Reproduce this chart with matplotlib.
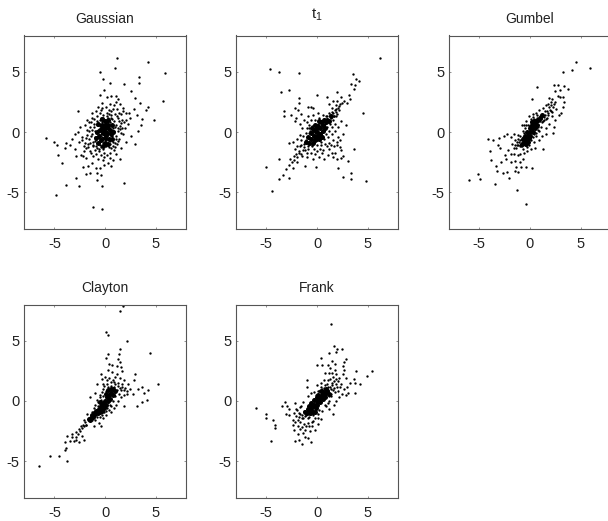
# Five copula scatter panels

import matplotlib
matplotlib.use("Agg")
import matplotlib.pyplot as plt

titles = ["Gaussian", "$\\mathregular{t_1}$", "Gumbel", "Clayton", "Frank"]
ticks = [-5, 0, 5]

gaussian_pts = [
    (1.2,6.1),(4.2,5.8),(1.0,5.3),(-0.5,5.0),(5.9,4.9),(3.4,4.6),(-0.2,4.4),(3.4,4.1),(0.5,4.1),(1.9,4.0),
    (2.6,3.4),(-0.1,3.5),(-0.5,3.1),(5.7,2.6),(4.2,2.1),(3.5,2.4),(-2.7,1.7),(4.8,1.0),(-5.8,-0.5),(-5.0,-0.8),
    (-4.7,-1.05),(-4.6,-1.9),(-4.2,-2.6),(3.0,-1.0),(-2.9,-3.8),(-3.9,-4.4),(-2.6,-4.5),(-4.8,-5.2),(-1.2,-6.2),(-0.3,-6.4),
    (1.9,-4.2),(-0.3,-4.5),(-0.8,-4.0),(-3.0,-0.2),(-3.3,-0.6),(-3.9,-0.9),(-4.0,-1.3),(-3.5,-1.1),(-3.0,-1.4),(-2.9,-2.0),
    (-2.4,-1.9),(-2.2,-2.0),(-2.2,-2.9),(-1.9,-3.5),(-1.7,-2.8),(-1.5,-3.4),(-1.3,-2.6),(-0.9,-3.0),(-0.8,-3.4),(-0.5,-3.0),
    (-0.4,-3.6),(-0.1,-2.7),(0.3,-2.6),(0.6,-2.8),(0.8,-2.3),(1.5,-2.2),(2.1,-0.8),(2.6,-0.3),(3.3,0.1),(3.6,0.6),
    (3.2,1.4),(2.9,1.9),(3.7,1.1),(4.0,1.8),(3.0,2.8),(1.3,2.7),(1.5,2.3),(1.1,3.0),(0.2,2.9),(0.6,3.0),
    (-0.3,2.4),(-1.3,1.6),(-1.3,1.2),(-1.8,1.0),(-2.0,0.6),(-2.5,0.4),(-2.7,0.0),(-2.3,-0.4),(-2.6,-0.8),(-2.1,-1.2),
    (-1.9,-0.5),(-1.7,-1.0),(-1.8,0.2),(-1.6,0.8),(-1.5,-1.6),(-1.2,-2.0),(-1.0,-1.5),(-0.7,-2.2),(-0.4,-1.9),(-0.2,-2.3),
    (0.2,-1.9),(0.5,-1.7),(0.9,-1.5),(1.2,-1.0),(1.4,-0.6),(1.8,-0.2),(2.0,0.3),(2.3,0.7),(2.5,1.2),(2.1,1.6),
    (1.8,2.0),(1.6,1.5),(1.2,1.9),(0.9,2.2),(0.5,2.3),(0.1,2.1),(-0.4,1.8),(-0.8,1.3),(-1.1,0.7),(-1.3,0.2),
    (-1.4,-0.3),(-1.2,-0.8),(-0.9,-1.2),(-0.6,-1.6),(-0.2,-1.4),(0.1,-1.2),(0.5,-1.0),(0.8,-0.8),(1.1,-0.3),(1.3,0.1),
    (1.5,0.5),(1.7,1.0),(1.3,1.2),(1.0,1.5),(0.6,1.7),(0.2,1.6),(-0.2,1.4),(-0.5,1.0),(-0.8,0.6),(-1.0,0.1),
    (-1.0,-0.4),(-0.8,-0.9),(-0.5,-1.1),(-0.2,-0.9),(0.1,-0.7),(0.4,-0.5),(0.7,-0.3),(0.9,0.1),(1.1,0.6),(0.9,0.9),
    (0.6,1.2),(0.3,1.2),(0.0,1.0),(-0.3,0.8),(-0.5,0.5),(-0.7,0.2),(-0.7,-0.3),(-0.5,-0.6),(-0.2,-0.5),(0.0,-0.3),
    (0.3,-0.1),(0.5,0.2),(0.7,0.5),(0.5,0.8),(0.2,0.8),(0.0,0.6),(-0.2,0.4),(-0.4,0.1),(-0.4,-0.2),(-0.1,-0.1),
    (0.1,0.1),(0.3,0.3),(0.1,0.4),(-0.1,0.2),(0.2,-0.3),(0.4,0.6),(-0.3,-0.4),(0.0,0.0),(-0.6,-0.8),(-0.3,-0.7),
    (-0.1,0.7),(0.3,0.9),(-0.6,0.7),(-0.9,-0.1),(0.6,-0.1),(0.8,0.3),(-0.4,1.2),(0.4,1.5),(-1.2,-1.2),(-1.6,-0.6),
    (0.6,-1.3),(1.0,-0.9),(-0.1,-1.7),(1.6,-0.1),(2.1,1.0),(-2.0,-0.9),(-1.5,0.4),(-0.9,1.7),(0.8,1.9),(1.4,0.9),
    (0.95,0.45),(-0.95,-0.75),(0.45,-0.75),(-0.15,1.15),(0.65,1.05),(-0.75,0.95),(1.05,-0.55),(-1.05,0.45),(0.05,-1.05),(-0.35,-1.25),
    (0.35,-1.25),(-0.75,-1.35),(0.75,-1.15),(1.25,0.35),(-1.25,-0.15),(1.25,-0.75),(-1.15,-1.05),(1.15,1.35),(-1.05,1.05),(0.15,1.35),
    (-0.45,1.55),(0.55,1.45),(1.45,0.25),(-1.45,-0.95),(1.55,0.75),(-1.55,0.05),(0.95,-1.25),(-0.55,-1.45),(1.65,0.35),(-1.75,-0.25),
    (1.85,0.85),(-1.85,-1.35),(1.35,1.55),(-1.35,0.85),(0.35,1.85),(-0.25,1.95),(-0.65,2.05),(1.05,2.45),(1.75,1.75),(2.35,1.55),
    (-1.65,-1.25),(-2.25,-0.65),(-2.05,-1.55),(-1.35,-1.75),(-0.85,-1.85),(-0.05,-2.05),(0.45,-2.15),(1.05,-1.85),(1.55,-1.35),(-1.85,-2.15),
]
gaussian_core = [
    (0.0,0.3),(0.3,0.6),(-0.3,0.6),(0.0,0.9),(0.5,0.2),(-0.5,0.2),(0.2,-0.1),(-0.2,-0.1),(0.6,-0.2),(-0.6,-0.3),
    (0.0,-0.5),(0.4,-0.6),(-0.4,-0.7),(0.0,-0.9),(-0.2,-1.2),(0.3,-1.0),(-0.7,-0.9),(0.7,0.6),(-0.7,0.7),(0.3,1.0),
    (-0.3,1.1),(0.8,0.0),(-0.8,0.0),(0.7,-0.6),(-0.9,-0.5),(0.1,0.6),(-0.1,0.1),(0.25,0.3),(-0.25,0.35),(0.1,-0.25),
]

t1_pts = [
    (6.2,6.1),(-4.6,5.2),(-3.8,5.0),(-1.8,4.9),(3.6,4.8),(3.9,4.4),(4.1,4.2),(3.4,4.0),(3.8,3.9),(3.7,3.6),
    (-3.6,3.3),(-2.8,3.5),(2.0,3.3),(0.0,3.1),(3.2,3.1),(1.0,2.9),(2.4,2.9),(-1.8,2.8),(3.3,2.7),(2.7,2.6),
    (4.5,1.6),(3.0,2.4),(2.5,2.4),(2.0,2.6),(1.6,2.6),(1.2,2.3),(-1.8,2.4),(-2.2,2.0),(-1.9,1.8),(-3.3,1.7),
    (-3.3,1.3),(-2.6,1.4),(-2.1,1.2),(-1.6,1.5),(-0.9,2.1),(-0.6,2.1),(-0.4,2.0),(-1.7,0.7),(-2.2,0.9),(-1.3,1.0),
    (2.9,0.6),(2.4,0.9),(3.7,-1.4),(2.6,-0.2),(2.3,-0.7),(2.0,-1.1),(-5.0,-2.9),(-3.8,-2.2),(-2.7,-2.2),(-2.5,-2.5),
    (-2.4,-3.0),(-2.0,-2.5),(-2.2,-1.4),(-2.8,-0.9),(-2.4,-0.8),(-1.2,-2.8),(-0.1,-2.9),(-3.1,-3.1),(-2.8,-3.8),(-3.4,-3.6),
    (-3.8,-3.9),(-4.4,-4.9),(2.1,-3.0),(2.6,-3.7),(3.1,-2.4),(3.4,-3.4),(3.4,-3.9),(4.8,-4.1),(2.6,-2.0),(2.0,-2.2),
    (1.6,-2.1),(1.1,-1.9),(0.7,-2.2),(0.2,-2.1),(-0.4,-2.2),(-1.0,-2.1),(-1.5,-2.0),(-1.8,-1.7),(-1.4,-1.5),(-1.0,-1.7),
    (-0.6,-1.7),(0.0,-1.6),(0.6,-1.5),(1.2,-1.4),(1.7,-1.2),(2.1,-0.4),(1.6,-0.7),(1.2,-0.9),(0.8,-1.0),(0.4,-1.1),
    (0.0,-1.1),(-0.5,-1.2),(-0.9,-1.2),(-1.3,-1.0),(-1.6,-0.7),(-1.4,-0.3),(-1.1,-0.7),(-0.8,-0.8),(-0.4,-0.8),(-0.1,-0.7),
    (0.3,-0.7),(0.7,-0.6),(1.1,-0.4),(1.5,-0.2),(1.8,0.1),(2.1,0.4),(1.8,0.7),(1.5,0.4),(1.2,0.1),(0.9,-0.2),
    (0.5,-0.3),(0.2,-0.4),(-0.2,-0.4),(-0.6,-0.5),(-0.9,-0.4),(-1.1,-0.1),(-0.8,-0.1),(-0.5,-0.2),(-0.2,-0.1),(0.1,-0.1),
    (0.4,0.0),(0.7,0.2),(1.0,0.4),(1.3,0.7),(1.6,1.0),(1.9,1.3),(2.2,1.8),(2.0,1.5),(1.7,1.3),(1.4,1.2),
    (1.1,0.9),(0.8,0.7),(0.5,0.5),(0.2,0.3),(-0.1,0.2),(-0.4,0.1),(-0.7,0.1),(-1.0,0.3),(-0.8,0.6),(-0.5,0.5),
    (-0.2,0.6),(0.1,0.7),(0.4,0.9),(0.7,1.1),(1.0,1.3),(0.6,1.4),(0.2,1.2),(-0.2,1.0),(-0.6,1.0),(-1.0,0.8),
    (0.9,1.0),(1.3,1.4),(1.6,1.6),(1.9,1.9),(1.5,2.0),(2.3,2.3),(1.9,2.2),(-1.2,-1.5),(-0.7,-1.0),(-0.3,-1.4),
    (0.3,-1.4),(1.0,-1.2),(-1.7,-1.2),(-2.0,-0.6),(-1.5,0.3),(-0.4,1.4),(0.1,1.6),(-0.9,1.3),(1.5,-1.7),(2.4,-1.5),
    (1.65,1.35),(1.85,1.65),(2.05,1.95),(2.15,2.15),(1.75,1.85),(1.45,1.65),(1.15,1.55),(0.85,1.35),(-0.75,0.35),(-1.55,-1.05),
    (-1.75,-1.55),(-2.05,-1.85),(-1.25,-1.25),(-0.45,-1.05),(0.35,-0.85),(-1.65,-0.25),(-1.95,-1.15),(-2.25,-1.95),(-1.55,-1.85),(-0.85,-1.45),
    (-0.15,-1.85),(0.45,-1.75),(1.35,-1.05),(1.95,-0.85),(2.25,-1.25),(1.75,-1.75),(2.35,-2.15),(-2.75,-2.75),(-2.25,-2.35),(-1.95,-2.05),
]
t1_core = [
    (0.0,0.0),(0.3,0.3),(-0.3,-0.3),(0.6,0.6),(-0.6,-0.6),(0.9,0.8),(-0.8,-0.9),(0.3,-0.2),(-0.3,0.2),(0.6,0.1),
    (-0.6,-0.1),(0.1,0.5),(-0.1,-0.6),(0.4,0.8),(-0.4,-0.9),(0.0,-0.3),(0.0,0.3),(0.8,0.3),(-0.9,-0.4),(0.2,0.9),
    (0.5,-0.4),(-0.5,0.3),(1.0,1.0),(1.2,0.9),(-0.2,-0.7),(0.15,-0.55),(-0.15,0.6),(0.7,1.0),(1.4,1.3),(-1.1,-0.8),
]

gumbel_pts = [
    (4.5,5.8),(5.9,5.3),(3.3,5.0),(4.1,5.1),(-6.0,-4.0),(-5.1,-3.5),(-4.9,-3.9),(-3.5,-4.3),(-1.3,-4.8),(-0.4,-6.0),
    (0.7,3.7),(0.2,2.7),(2.4,3.9),(2.8,3.9),(3.4,3.8),(3.8,3.6),(3.0,3.5),(2.5,3.4),(2.8,3.0),(3.3,2.9),
    (3.0,2.9),(3.4,2.5),(3.3,2.1),(3.1,1.6),(2.9,1.4),(2.5,1.0),(2.4,0.4),(2.3,-0.1),(1.6,-0.2),(1.3,-1.4),
    (-4.1,-0.6),(-3.7,-0.7),(-3.1,-0.5),(-3.2,-1.1),(-3.0,-1.3),(-2.6,-0.3),(-2.3,-0.2),(-4.0,-1.6),(-3.9,-2.3),(-3.4,-2.8),
    (-3.3,-3.2),(-2.9,-2.5),(-2.7,-3.4),(-2.3,-3.3),(-2.1,-3.8),(-1.5,-3.2),(-1.2,-3.3),(-1.4,-2.9),(-0.9,-2.9),(-0.4,-2.9),
    (0.2,-3.0),(-1.9,-2.5),(-2.4,-2.2),(-2.5,-1.9),(-2.2,-1.5),(-1.9,-1.8),(-1.5,-2.4),(-1.0,-2.5),(-0.7,-2.2),(-1.2,-1.9),
    (-1.6,-1.8),(-1.0,-1.8),(-0.6,-1.7),(-1.8,-1.0),(-1.5,-0.7),(-1.9,-0.4),(-1.6,-0.2),(-1.3,-1.1),(-1.2,-0.6),(-1.0,-1.2),
    (-0.7,-1.4),(-0.3,-1.6),(0.1,-1.4),(0.5,-1.3),(0.4,-0.8),(0.9,-0.7),(1.2,-0.3),(1.6,0.3),(1.9,0.7),(2.2,1.3),
    (2.6,1.9),(2.5,2.5),(2.2,2.7),(1.9,2.8),(2.1,2.2),(1.8,2.3),(1.6,2.2),(1.3,2.0),(1.5,1.7),(1.8,1.6),
    (2.1,1.7),(1.7,1.2),(1.4,1.0),(1.1,0.4),(0.9,0.1),(1.2,1.3),(0.9,1.8),(0.6,1.6),(0.3,1.5),(-0.1,1.3),
    (-0.4,0.9),(-0.8,0.6),(-0.7,0.1),(-1.0,-0.3),(-0.8,-0.7),(-0.5,-1.1),(-0.2,-0.9),(0.1,-0.7),(0.3,-0.4),(0.6,-0.1),
    (0.8,0.4),(1.0,0.9),(0.7,1.2),(0.4,1.1),(0.1,0.9),(-0.2,0.6),(-0.5,0.3),(-0.6,-0.1),(-0.7,-0.4),(-0.5,-0.7),
    (1.05,1.05),(-1.05,-0.85),(1.15,0.85),(-1.15,-1.05),(1.25,0.95),(-1.25,-0.85),(1.35,1.25),(-1.35,-1.35),(1.45,1.45),(-1.45,-1.05),
    (1.55,1.05),(-1.55,-1.35),(1.65,1.75),(1.75,1.45),(1.85,2.05),(1.95,1.85),(2.05,2.45),(2.25,2.05),(2.35,2.35),(2.15,1.65),
    (0.05,1.05),(-0.35,0.55),(-0.55,0.55),(0.25,1.25),(0.65,1.45),(0.35,-0.15),(0.55,-0.35),(0.75,0.15),(-0.05,-1.05),(-0.25,-1.25),
    (-0.75,-1.15),(-1.15,-0.25),(0.95,1.35),(0.85,1.15),(-0.95,-0.65),(-0.85,-1.15),(-0.95,-1.05),(0.65,0.95),(0.75,1.05),(-0.65,-0.65),
]
gumbel_core = [
    (0.0,0.0),(0.2,0.3),(-0.2,-0.3),(0.4,0.6),(-0.4,-0.6),(0.6,0.9),(-0.6,-0.9),(0.1,0.5),(-0.1,-0.5),(0.3,0.0),
    (-0.3,0.0),(0.5,0.3),(-0.5,-0.3),(0.2,0.8),(-0.2,-0.8),(0.7,0.6),(0.8,1.0),(-0.7,-0.6),(1.0,1.2),(0.4,0.95),
    (-0.4,-1.0),(0.0,0.35),(0.0,-0.3),(0.55,0.6),(-0.55,-0.6),(1.2,1.4),(-0.8,-1.0),
]

clayton_pts = [
    (1.5,7.5),(1.8,7.9),(0.1,5.7),(0.3,5.5),(2.2,5.0),(4.4,4.0),(1.5,4.3),(1.4,3.9),(0.3,3.9),(0.1,3.6),
    (1.3,3.5),(1.5,3.2),(5.2,1.4),(3.0,2.2),(2.9,1.7),(3.7,1.2),(3.3,1.0),(4.2,0.9),(3.9,0.7),(4.1,0.1),
    (3.7,-0.1),(3.2,-0.4),(2.8,0.6),(2.5,1.0),(2.2,0.8),(2.3,1.4),(1.9,1.7),(1.7,2.5),(1.6,2.8),(1.2,2.9),
    (0.7,3.0),(0.4,3.1),(-0.4,2.2),(-0.3,1.8),(-0.8,1.4),(-1.5,0.3),(-1.0,0.7),(-6.5,-5.4),(-5.4,-4.6),(-4.5,-4.6),
    (-3.8,-5.0),(-4.0,-4.1),(-3.9,-3.9),(-4.0,-3.4),(-3.8,-2.9),(-3.3,-3.0),(-3.5,-3.3),(-2.9,-3.2),(-2.6,-3.4),(-2.1,-3.2),
    (-2.3,-2.9),(-2.9,-2.6),(-2.6,-2.3),(-2.4,-2.1),(-2.1,-1.6),(-1.9,-2.0),(-1.6,-1.4),(-1.8,-1.1),(-1.3,-1.6),(-1.1,-2.1),
    (-0.4,-2.1),(-0.6,-1.8),(-1.0,-1.6),(-0.8,-1.3),(-1.4,-1.2),(-1.3,-0.9),(-1.1,-0.6),(-0.9,-1.0),(-0.7,-0.8),(-0.5,-1.3),
    (-0.2,-1.4),(0.1,-1.2),(0.6,-0.9),(0.9,-0.6),(1.1,-0.3),(1.9,-0.4),(1.3,0.0),(1.6,0.3),(1.9,0.5),(2.0,1.1),
    (1.7,1.2),(1.3,1.5),(1.0,2.0),(0.7,2.4),(0.3,2.6),(0.0,2.0),(0.2,1.4),(-0.2,1.0),(-0.5,0.5),(-0.8,0.1),
    (-1.0,-0.3),(-0.7,-0.4),(-0.4,-0.7),(-0.1,-0.9),(0.2,-0.6),(0.5,-0.3),(0.8,0.0),(1.0,0.4),(1.2,0.9),(0.9,1.2),
    (0.6,1.6),(0.4,1.9),(0.1,0.8),(-0.2,0.4),(-0.4,0.1),(1.4,0.6),(1.6,0.9),(1.5,1.9),(0.9,1.6),(0.6,-0.4),
    (-1.85,-1.95),(-1.95,-1.75),(-2.05,-2.05),(-2.15,-1.95),(-2.25,-2.25),(-2.45,-2.45),(-2.65,-2.75),(-2.85,-2.95),(-3.05,-3.35),(-3.25,-2.75),
    (1.25,1.25),(1.45,1.05),(1.65,1.45),(1.85,0.95),(2.15,0.55),(0.25,1.15),(0.55,1.25),(0.75,1.75),(0.95,1.45),(1.15,2.25),
    (0.15,1.75),(-0.15,1.45),(-0.05,1.25),(0.05,0.65),(-0.25,0.75),(-0.45,0.35),(-0.65,-0.05),(0.35,-0.75),(0.05,-0.85),(-0.25,-1.15),
]
clayton_core = [
    (0.0,0.0),(0.2,0.3),(-0.2,-0.2),(0.4,0.5),(-0.4,-0.4),(0.6,0.7),(-0.6,-0.7),(-0.8,-0.9),(-1.0,-1.1),(-1.2,-1.3),
    (0.1,0.6),(0.3,0.0),(0.5,0.2),(-0.1,-0.6),(-0.3,-0.8),(-0.7,-1.0),(-0.9,-0.8),(-1.1,-1.0),(-1.3,-1.2),(-1.5,-1.6),
    (0.3,0.9),(0.8,0.5),(0.6,1.0),(-0.5,-0.1),(0.1,-0.3),(-1.6,-1.5),(-0.5,-0.9),(1.0,0.8),(0.8,1.0),(-1.4,-1.4),
]

frank_pts = [
    (1.4,6.4),(1.7,4.6),(2.0,4.3),(1.9,4.1),(2.5,4.3),(1.2,4.0),(0.4,3.6),(2.9,3.5),(1.5,3.3),(1.8,3.1),
    (2.7,3.2),(2.6,2.9),(0.0,3.0),(0.5,3.0),(1.1,3.0),(1.3,2.7),(2.7,2.6),(2.6,2.2),(3.9,2.5),(5.4,2.5),
    (4.9,2.1),(2.9,1.9),(3.7,1.8),(3.8,1.5),(4.2,1.4),(3.3,1.5),(3.0,1.2),(2.7,1.0),(3.1,0.7),(3.8,0.7),
    (2.9,0.5),(2.5,0.6),(-6.0,-0.6),(-5.0,-1.1),(-5.0,-1.4),(-4.3,-1.6),(-4.1,-2.0),(-4.1,-2.2),(-4.5,-3.3),(-3.5,-0.4),
    (-3.2,-0.1),(-3.0,-0.4),(-3.1,-1.1),(-2.8,-0.7),(-2.2,-0.2),(-2.1,-0.7),(-2.8,-1.2),(-2.3,-1.0),(-2.4,-1.6),(-2.4,-2.0),
    (-2.3,-2.4),(-1.9,-2.1),(-1.9,-2.7),(-2.2,-3.3),(-1.8,-3.2),(-1.5,-3.6),(-1.2,-3.0),(-0.9,-3.1),(-0.6,-3.4),(-1.2,-2.4),
    (-0.7,-2.5),(-0.2,-2.4),(0.1,-1.9),(0.4,-1.5),(1.6,-1.1),(1.2,-0.7),(1.7,-0.3),(1.9,0.0),(2.2,0.3),(2.1,0.8),
    (2.4,1.4),(2.2,1.9),(1.9,2.2),(1.6,2.0),(1.2,2.3),(0.8,2.3),(0.7,1.7),(1.1,1.7),(1.5,1.5),(1.9,1.4),
    (1.7,1.1),(1.4,1.0),(1.1,1.2),(0.8,1.3),(0.4,1.5),(0.0,1.3),(-1.0,1.7),(-1.0,1.2),(-0.6,0.7),(-0.9,0.4),
    (-1.4,-0.1),(-1.7,-0.5),(-1.8,-1.0),(-1.5,-1.4),(-1.7,-1.7),(-1.3,-1.9),(-0.9,-1.8),(-0.5,-1.7),(-0.2,-1.4),(0.1,-1.1),
    (0.5,-0.8),(0.9,-0.4),(1.2,0.0),(1.4,0.4),(1.1,0.7),(0.8,0.9),(0.5,1.0),(0.2,0.8),(-0.1,0.5),(-0.3,0.2),
    (1.25,1.15),(-1.25,-0.85),(1.35,0.55),(-1.35,-1.45),(1.45,1.35),(-1.45,-1.15),(1.55,0.95),(-1.55,-0.45),(1.65,1.65),(-1.65,-1.05),
    (1.75,0.75),(-1.75,-1.35),(1.85,1.85),(-1.85,-1.55),(1.95,1.15),(-1.95,-0.75),(2.05,1.65),(-2.05,-1.25),(2.25,1.15),(-2.15,-1.75),
    (0.05,0.85),(0.35,1.15),(-0.25,0.75),(0.95,1.45),(1.25,1.85),(1.45,2.35),(1.75,2.55),(1.05,-0.15),(0.75,-0.35),(0.15,-0.75),
    (-0.85,-1.45),(-0.35,-1.65),(-1.45,-2.15),(-1.65,-2.35),(-1.05,-2.05),(-1.35,-2.65),(-0.75,-2.05),(-0.45,-2.05),(0.05,-1.45),(-0.05,-0.15),
    (-1.05,-1.15),(-1.15,-1.25),(-0.65,-1.05),(-0.55,-1.05),(-0.75,-1.35),(0.65,1.05),(0.55,0.85),(1.05,0.95),(1.15,0.45),(-0.35,-1.15),
]
frank_core = [
    (0.0,0.0),(0.25,0.3),(-0.25,-0.3),(0.5,0.5),(-0.5,-0.5),(0.75,0.6),(-0.75,-0.7),(1.0,0.8),(-1.0,-1.0),(0.3,-0.1),
    (-0.3,0.1),(0.6,0.2),(-0.6,-0.2),(0.1,0.5),(-0.1,-0.6),(0.4,0.8),(-0.4,-0.9),(0.8,0.3),(-0.8,-0.4),(-0.7,-1.0),
    (0.0,-0.3),(0.0,0.3),(0.55,0.75),(-0.55,-0.75),(-0.9,-0.7),(1.2,0.6),(0.9,1.0),(-1.15,-0.9),(0.2,0.0),(-0.2,-0.9),
]

all_pts = [gaussian_pts, t1_pts, gumbel_pts, clayton_pts, frank_pts]
all_core = [gaussian_core, t1_core, gumbel_core, clayton_core, frank_core]

W, H = 608, 521
# panel corners in pixels: left, top
corners = [(24, 35.5), (236, 35.5), (449, 35.5), (24, 304.5), (236, 304.5)]
ax_w, ax_h = 162, 193

plt.rcParams["font.family"] = ["Liberation Sans", "DejaVu Sans"]
plt.rcParams["axes.unicode_minus"] = False
plt.rcParams["mathtext.fontset"] = "custom"
plt.rcParams["mathtext.rm"] = "Liberation Sans"
fig = plt.figure(figsize=(W / 100, H / 100), dpi=100)

for title, pts, core, (left, top) in zip(titles, all_pts, all_core, corners):
    ax = fig.add_axes([left / W, 1 - (top + ax_h) / H, ax_w / W, ax_h / H])
    ax.plot([p[0] for p in pts], [p[1] for p in pts], ls="none", marker="o", ms=1.7, mew=0, color="black")
    # overlapping dots in the middle merge into a solid blob, so bigger marks here
    ax.plot([p[0] for p in core], [p[1] for p in core], ls="none", marker="o", ms=3.6, mew=0, color="black")
    ax.set_xlim(-8, 8)
    ax.set_ylim(-8, 8)
    ax.set_xticks(ticks)
    ax.set_yticks(ticks)
    ax.tick_params(direction="in", top=True, right=True, length=1.5, width=0.5,
                   color="#666666", labelsize=10.5, labelcolor="#222222")
    ax.tick_params(axis="x", pad=6)
    ax.tick_params(axis="y", pad=3)
    for s in ax.spines.values():
        s.set_linewidth(0.8)
        s.set_color("#555555")
    if title.startswith("$"):
        ax.set_title(title, fontsize=11, color="#222222", pad=12)
    else:
        ax.set_title(title, fontsize=10, color="#222222", pad=9)

fig.savefig("out.png", dpi=100)
